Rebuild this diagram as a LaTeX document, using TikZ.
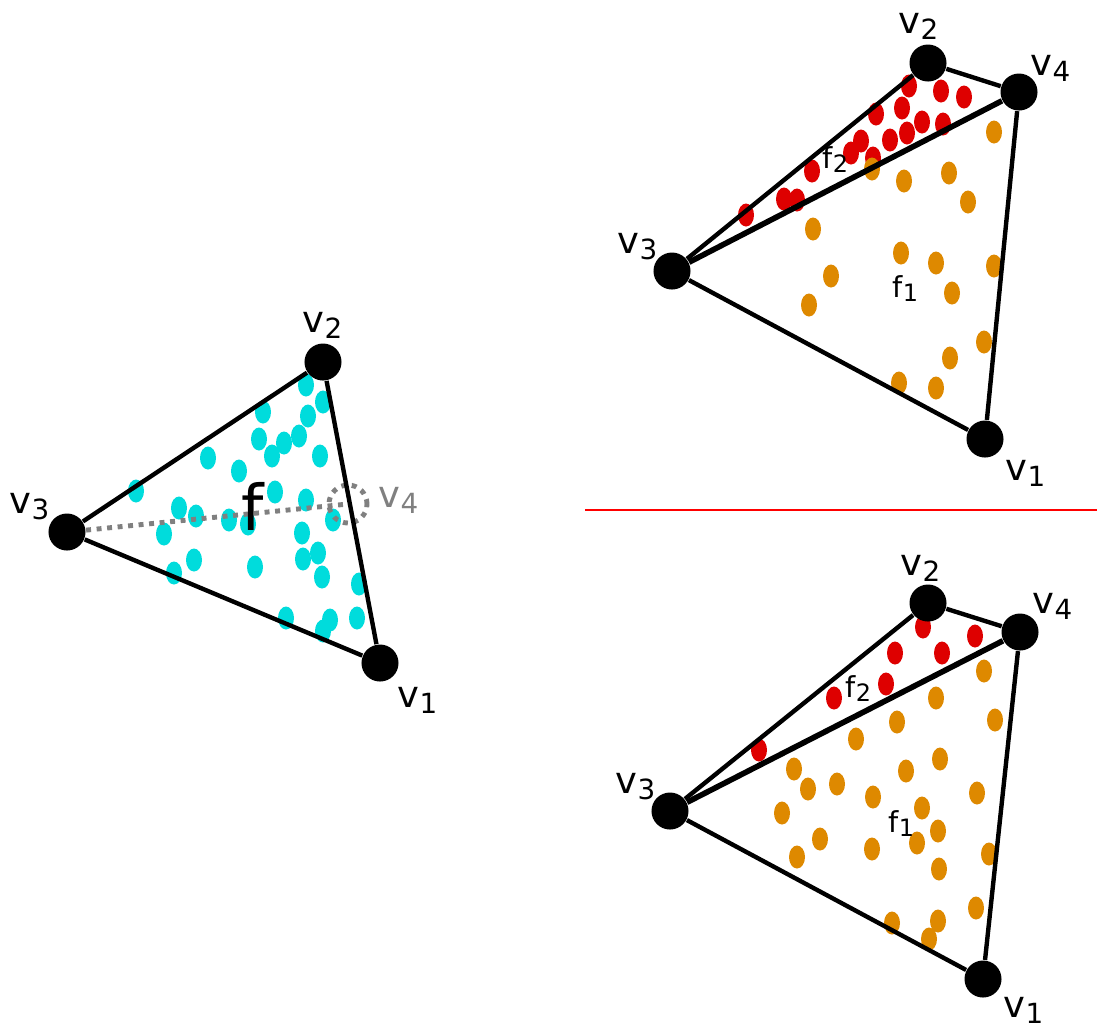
\documentclass[tikz,border=0pt]{standalone}
\usepackage{fontspec}
\setmainfont{DejaVu Sans}
\usetikzlibrary{positioning}
\definecolor{cyandot}{RGB}{0,220,220}
\definecolor{reddot}{RGB}{222,0,0}
\definecolor{orangedot}{RGB}{222,137,0}
\newcommand{\lab}[2]{#1\raisebox{-1.9pt}{\fontsize{7.9}{8}\selectfont #2}}
\newcommand{\flab}[2]{#1\raisebox{-1.3pt}{\fontsize{6.8}{8}\selectfont #2}}

\begin{document}
\begin{tikzpicture}[
  x=0.01cm, y=-0.01cm,
  vert/.style={circle, fill=black, minimum size=0.37cm, inner sep=0pt},
  edge/.style={line width=1.25pt},
  fedge/.style={line width=1.6pt},
  vlabel/.style={anchor=base west, inner sep=0pt, font=\fontsize{10.5}{12}\selectfont},
  flabel/.style={anchor=base west, inner sep=0pt, font=\fontsize{8.2}{10}\selectfont},
  ghost/.style={gray, line width=1.4pt, dash pattern=on 1.4pt off 1.6pt},
  dotshape/.style={x radius=0.08cm, y radius=0.115cm}
]
  \useasboundingbox (0,0) rectangle (1097,1023);

  % left: one face f
  \foreach \x/\y in {306/385, 323/402, 263/412, 308/416, 259/439, 284/443,
      299/436, 272/456, 320/456, 208/458, 239/471, 136/491, 275/492, 306/500,
      179/508, 196/516, 229/520, 248/524, 333/520, 164/534, 302/533, 318/553,
      303/559, 194/560, 255/567, 174/573, 322/577, 359/584, 286/618, 330/620,
      357/618, 323/631}
    \fill[cyandot] (\x,\y) ellipse [dotshape];

  \node[vert] (L1) at (380,663) {};
  \node[vert] (L2) at (323,362) {};
  \node[vert] (L3) at (67,532) {};
  \coordinate (L4) at (348,504);

  \draw[ghost] (L3) -- (L4);
  \draw[ghost] (L4) circle [radius=0.19cm];
  \draw[edge] (L3) -- (L2) -- (L1) -- (L3);

  \node[vlabel] (L1lab) at (397,707) {\lab{v}{1}};
  \node[vlabel] (L2lab) at (302,332) {\lab{v}{2}};
  \node[vlabel] (L3lab) at (9,513) {\lab{v}{3}};
  \node[vlabel, gray] (L4lab) at (378,507) {\lab{v}{4}};
  \node[anchor=base west, inner sep=0pt, font=\fontsize{18}{20}\selectfont] (flab) at (241,530) {f};

  % separator
  \coordinate (sepL) at (585,510);
  \coordinate (sepR) at (1097,510);
  \draw[red, line width=0.6pt] (sepL) -- (sepR);

  % top right: split into f1, f2
  \foreach \x/\y in {909/86, 941/91, 964/97, 876/114, 902/108, 922/122,
      943/124, 907/133, 890/140, 861/141, 851/153, 873/158, 812/171,
      784/199, 797/200, 746/215}
    \fill[reddot] (\x,\y) ellipse [dotshape];
  \foreach \x/\y in {994/132, 872/169, 904/181, 949/173, 968/202, 813/229,
      901/253, 936/263, 994/266, 831/276, 952/293, 809/305, 984/342,
      950/358, 899/383, 936/388}
    \fill[orangedot] (\x,\y) ellipse [dotshape];

  \node[vert] (A1) at (985,439) {};
  \node[vert] (A2) at (928,63) {};
  \node[vert] (A3) at (672,271) {};
  \node[vert] (A4) at (1019,92) {};

  \draw[edge] (A3) -- (A2) -- (A4);
  \draw[edge] (A4) -- (A1) -- (A3);
  \draw[fedge] (A3) -- (A4);

  \node[vlabel] (A1lab) at (1005,480) {\lab{v}{1}};
  \node[vlabel] (A2lab) at (898,33) {\lab{v}{2}};
  \node[vlabel] (A3lab) at (617,253) {\lab{v}{3}};
  \node[vlabel] (A4lab) at (1030,75) {\lab{v}{4}};
  \node[flabel] (A1f) at (892,297) {\flab{f}{1}};
  \node[flabel] (A2f) at (822,168) {\flab{f}{2}};

  % bottom right: f2 shrinks
  \foreach \x/\y in {923/627, 895/653, 942/653, 975/636, 886/684, 834/698,
      759/750}
    \fill[reddot] (\x,\y) ellipse [dotshape];
  \foreach \x/\y in {984/671, 936/698, 897/722, 995/720, 856/739, 940/759,
      906/771, 794/769, 808/789, 837/784, 873/797, 977/793, 782/813,
      922/808, 938/831, 917/843, 820/839, 872/849, 797/857, 989/854,
      939/869, 976/908, 892/923, 938/921, 929/939}
    \fill[orangedot] (\x,\y) ellipse [dotshape];

  \node[vert] (B1) at (983,979) {};
  \node[vert] (B2) at (928,603) {};
  \node[vert] (B3) at (670,811) {};
  \node[vert] (B4) at (1020,632) {};

  \draw[edge] (B3) -- (B2) -- (B4);
  \draw[edge] (B4) -- (B1) -- (B3);
  \draw[fedge] (B3) -- (B4);

  \node[vlabel] (B1lab) at (1003,1017) {\lab{v}{1}};
  \node[vlabel] (B2lab) at (900,575) {\lab{v}{2}};
  \node[vlabel] (B3lab) at (615,793) {\lab{v}{3}};
  \node[vlabel] (B4lab) at (1032,613) {\lab{v}{4}};
  \node[flabel] (B1f) at (888,832) {\flab{f}{1}};
  \node[flabel] (B2f) at (845,697) {\flab{f}{2}};
\end{tikzpicture}
\end{document}
